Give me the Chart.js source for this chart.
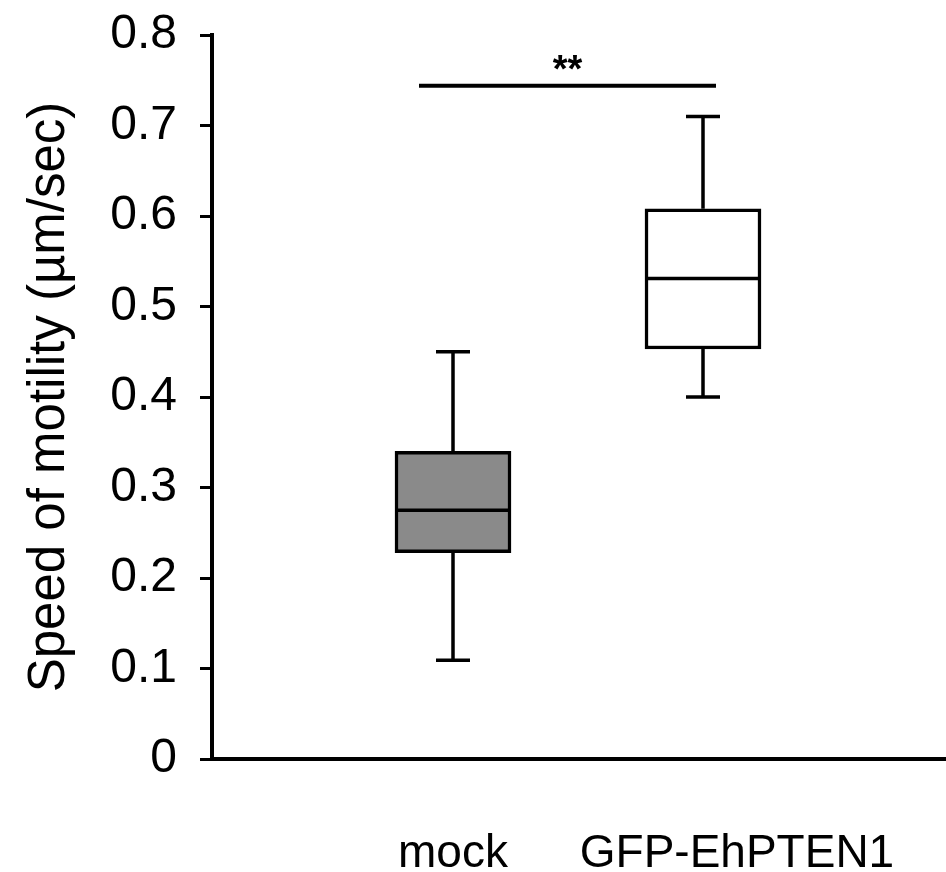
<!DOCTYPE html>
<html>
<head>
<meta charset="utf-8">
<script src="https://cdn.jsdelivr.net/npm/chart.js@4.4.1/dist/chart.umd.min.js"></script>
<style>
  body { margin: 0; background: #fff; }
</style>
</head>
<body>
<canvas id="chart" width="946" height="872"></canvas>
<script>
// box plot values
const categories = ['mock', 'GFP-EhPTEN1'];
const positions = [1, 2];
const labelPositions = [1, 2.136];
const q1 = [0.228, 0.453];
const q3 = [0.340, 0.608];
const medians = [0.275, 0.531];
const whiskerLow = [0.109, 0.400];
const whiskerHigh = [0.450, 0.710];
const boxColors = ['#8a8a8a', '#ffffff'];

// significance bracket
const sigFrom = 0.864;
const sigTo = 2.052;
const sigValue = 0.744;
const sigText = '**';

const FONT = "'Liberation Sans', Arial, sans-serif";

const boxPlotExtras = {
    id: 'boxPlotExtras',
    afterDatasetsDraw(chart) {
        const ctx = chart.ctx;
        const x = chart.scales.x;
        const y = chart.scales.y;
        const meta = chart.getDatasetMeta(0);
        ctx.save();
        ctx.strokeStyle = '#000';
        ctx.lineWidth = 3.5;
        ctx.lineCap = 'butt';
        positions.forEach((p, i) => {
            const cx = x.getPixelForValue(p);
            const bar = meta.data[i];
            const half = bar.width / 2;
            const capHalf = 17;
            // whiskers
            ctx.beginPath();
            ctx.moveTo(cx, y.getPixelForValue(q3[i]));
            ctx.lineTo(cx, y.getPixelForValue(whiskerHigh[i]));
            ctx.moveTo(cx - capHalf, y.getPixelForValue(whiskerHigh[i]));
            ctx.lineTo(cx + capHalf, y.getPixelForValue(whiskerHigh[i]));
            ctx.moveTo(cx, y.getPixelForValue(q1[i]));
            ctx.lineTo(cx, y.getPixelForValue(whiskerLow[i]));
            ctx.moveTo(cx - capHalf, y.getPixelForValue(whiskerLow[i]));
            ctx.lineTo(cx + capHalf, y.getPixelForValue(whiskerLow[i]));
            // median
            ctx.moveTo(cx - half, y.getPixelForValue(medians[i]));
            ctx.lineTo(cx + half, y.getPixelForValue(medians[i]));
            ctx.stroke();
        });
        // significance line and stars
        const sy = y.getPixelForValue(sigValue);
        ctx.beginPath();
        ctx.lineWidth = 4;
        ctx.moveTo(x.getPixelForValue(sigFrom), sy);
        ctx.lineTo(x.getPixelForValue(sigTo), sy);
        ctx.stroke();
        ctx.fillStyle = '#000';
        ctx.font = 'bold 38px ' + FONT;
        ctx.textAlign = 'center';
        ctx.textBaseline = 'alphabetic';
        ctx.fillText(sigText, x.getPixelForValue((sigFrom + sigTo) / 2), sy - 4);
        ctx.restore();
    }
};

const ctx = document.getElementById('chart').getContext('2d');
new Chart(ctx, {
    type: 'bar',
    data: {
        datasets: [{
            data: positions.map((p, i) => ({ x: p, y: [q1[i], q3[i]] })),
            backgroundColor: boxColors,
            borderColor: '#000',
            borderWidth: 3.5,
            borderSkipped: false,
            barThickness: 116
        }]
    },
    options: {
        responsive: false,
        animation: false,
        layout: { padding: { top: 35, right: 0, left: 0, bottom: 0 } },
        plugins: {
            legend: { display: false },
            tooltip: { enabled: false }
        },
        scales: {
            x: {
                type: 'linear',
                offset: false,
                min: 0.036,
                max: 2.972,
                afterBuildTicks: (s) => { s.ticks = labelPositions.map(v => ({ value: v })); },
                afterFit: (s) => {
                    s.height = 113;
                    s.paddingLeft = 0;
                    s.paddingRight = 0;
                },
                grid: { display: false, offset: false },
                border: { display: true, color: '#000', width: 4 },
                ticks: {
                    callback: (v, i) => categories[i],
                    color: '#000',
                    font: { family: FONT, size: 46, lineHeight: 1 },
                    padding: 64,
                    maxRotation: 0,
                    autoSkip: false
                }
            },
            y: {
                min: 0,
                max: 0.8,
                afterFit: (s) => {
                    s.width = 212;
                    s.paddingTop = 0;
                    s.paddingBottom = 0;
                },
                grid: {
                    drawOnChartArea: false,
                    color: '#000',
                    lineWidth: 3,
                    tickLength: 12
                },
                border: { display: true, color: '#000', width: 4 },
                ticks: {
                    stepSize: 0.1,
                    color: '#000',
                    padding: 23,
                    font: { family: FONT, size: 48, lineHeight: 1 },
                    callback: (v) => v === 0 ? '0' : v.toFixed(1)
                },
                title: {
                    display: true,
                    text: 'Speed of motility (µm/sec)',
                    color: '#000',
                    font: { family: FONT, size: 51, lineHeight: 1 },
                    padding: { top: 24, bottom: 0 }
                }
            }
        }
    },
    plugins: [boxPlotExtras]
});
</script>
</body>
</html>
